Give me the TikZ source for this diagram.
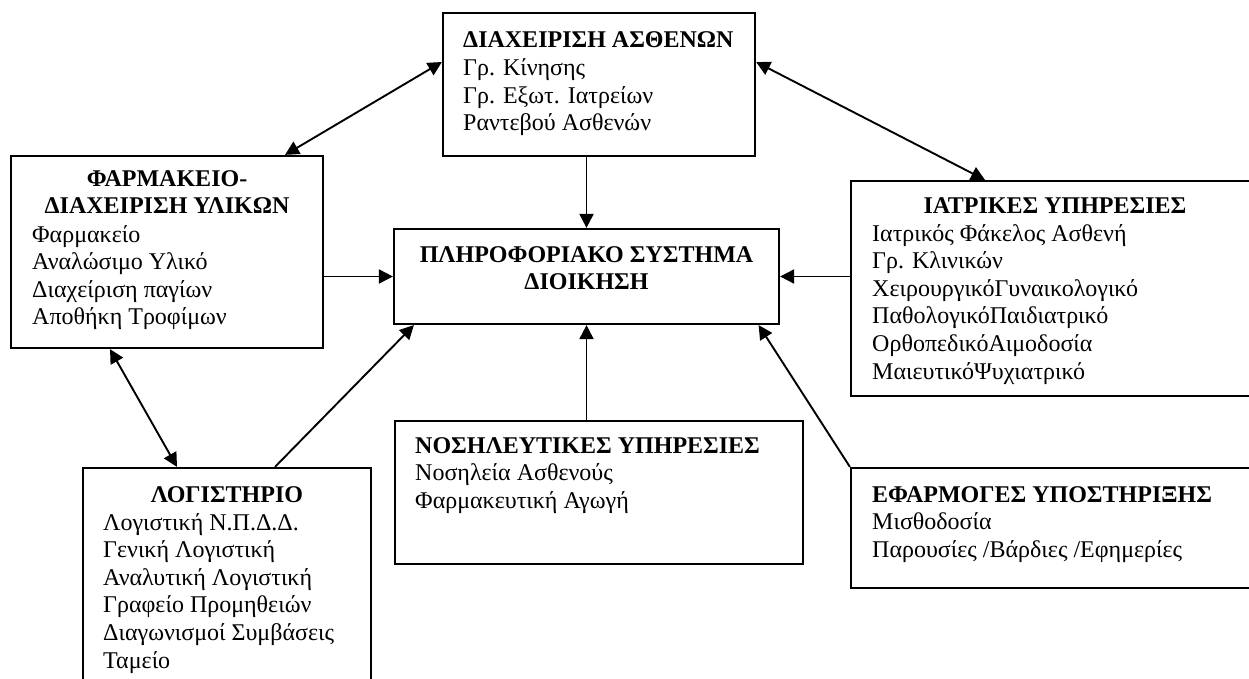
\documentclass[tikz,border=0pt]{standalone}
\usepackage{fontspec}
\setmainfont{Liberation Serif}
\usetikzlibrary{arrows.meta,fit}
\begin{document}
\begin{tikzpicture}[x=1pt,y=-1pt,
  box/.style={draw, line width=2.2pt, inner sep=0pt},
  oneway/.style={line width=1.9pt, -{Triangle[length=14pt,width=14pt]}},
  twoway/.style={line width=1.9pt, {Triangle[length=14pt,width=14pt]}-{Triangle[length=14pt,width=14pt]}},
  txt/.style={inner sep=0pt, font=\fontsize{24}{27.6}\selectfont}]
\useasboundingbox (0,0) rectangle (1249,679);
\clip (0,0) rectangle (1249,679);

% frames of the modules
\node[box, fit={(443,13) (755,156)}] (pat) {};
\node[box, fit={(11,156) (323,348)}] (ph) {};
\node[box, fit={(394,229) (779,324)}] (cen) {};
\node[box, fit={(851,181) (1259,396)}] (med) {};
\node[box, fit={(83,468) (371,700)}] (log) {};
\node[box, fit={(395,421) (803,564)}] (nur) {};
\node[box, fit={(851,468) (1259,588)}] (sup) {};

% texts
\node[txt, anchor=base west] (patT) at (463,48) {\begin{tabular}[t]{@{}l@{}}\textbf{ΔΙΑΧΕΙΡΙΣΗ ΑΣΘΕΝΩΝ}\\Γρ. Κίνησης\\Γρ. Εξωτ. Ιατρείων\\Ραντεβού Ασθενών\end{tabular}};

\node[txt, anchor=base] (phT) at (167,186) {\begin{tabular}[t]{@{}c@{}}\textbf{ΦΑΡΜΑΚΕΙΟ-}\\\textbf{ΔΙΑΧΕΙΡΙΣΗ ΥΛΙΚΩΝ}\end{tabular}};
\node[txt, anchor=base west] (phL) at (32,242) {\begin{tabular}[t]{@{}l@{}}Φαρμακείο\\Αναλώσιμο Υλικό\\Διαχείριση παγίων\\Αποθήκη Τροφίμων\end{tabular}};

\node[txt, anchor=base] (cenT) at (586.5,262) {\begin{tabular}[t]{@{}c@{}}\textbf{ΠΛΗΡΟΦΟΡΙΑΚΟ ΣΥΣΤΗΜΑ}\\\textbf{ΔΙΟΙΚΗΣΗ}\end{tabular}};

\node[txt, anchor=base] (medT) at (1055,213) {\textbf{ΙΑΤΡΙΚΕΣ ΥΠΗΡΕΣΙΕΣ}};
\node[txt, anchor=base west] (medL) at (872,241) {\begin{tabular}[t]{@{}l@{}}Ιατρικός Φάκελος Ασθενή\\Γρ. Κλινικών\\ΧειρουργικόΓυναικολογικό\\ΠαθολογικόΠαιδιατρικό\\ΟρθοπεδικόΑιμοδοσία\\ΜαιευτικόΨυχιατρικό\end{tabular}};

\node[txt, anchor=base] (logT) at (227,502) {\textbf{ΛΟΓΙΣΤΗΡΙΟ}};
\node[txt, anchor=base west] (logL) at (103,530) {\begin{tabular}[t]{@{}l@{}}Λογιστική Ν.Π.Δ.Δ.\\Γενική Λογιστική\\Αναλυτική Λογιστική\\Γραφείο Προμηθειών\\Διαγωνισμοί Συμβάσεις\\Ταμείο\end{tabular}};

\node[txt, anchor=base west] (nurT) at (415,453) {\begin{tabular}[t]{@{}l@{}}\textbf{ΝΟΣΗΛΕΥΤΙΚΕΣ ΥΠΗΡΕΣΙΕΣ}\\Νοσηλεία Ασθενούς\\Φαρμακευτική Αγωγή\end{tabular}};

\node[txt, anchor=base west] (supT) at (872,502) {\begin{tabular}[t]{@{}l@{}}\textbf{ΕΦΑΡΜΟΓΕΣ ΥΠΟΣΤΗΡΙΞΗΣ}\\Μισθοδοσία\\Παρουσίες /Βάρδιες /Εφημερίες\end{tabular}};

% connectors
\draw[twoway] ([yshift=22.5pt]pat.west) -- ([xshift=118pt]ph.north);
\draw[twoway] ([yshift=22.5pt]pat.east) -- ([xshift=-70pt]med.north);
\draw[oneway] (pat.south -| cen.north) -- (cen.north);
\draw[oneway] (ph.east |- cen.west) -- (cen.west);
\draw[oneway] (med.west |- cen.east) -- (cen.east);
\draw[twoway] ([xshift=-57pt]ph.south) -- ([xshift=-50pt]log.north);
\draw[oneway] ([xshift=48pt]log.north) -- ([xshift=21pt]cen.south west);
\draw[oneway] (nur.north -| cen.south) -- (cen.south);
\draw[oneway] (sup.north west) -- ([xshift=-21.5pt]cen.south east);
\end{tikzpicture}
\end{document}
